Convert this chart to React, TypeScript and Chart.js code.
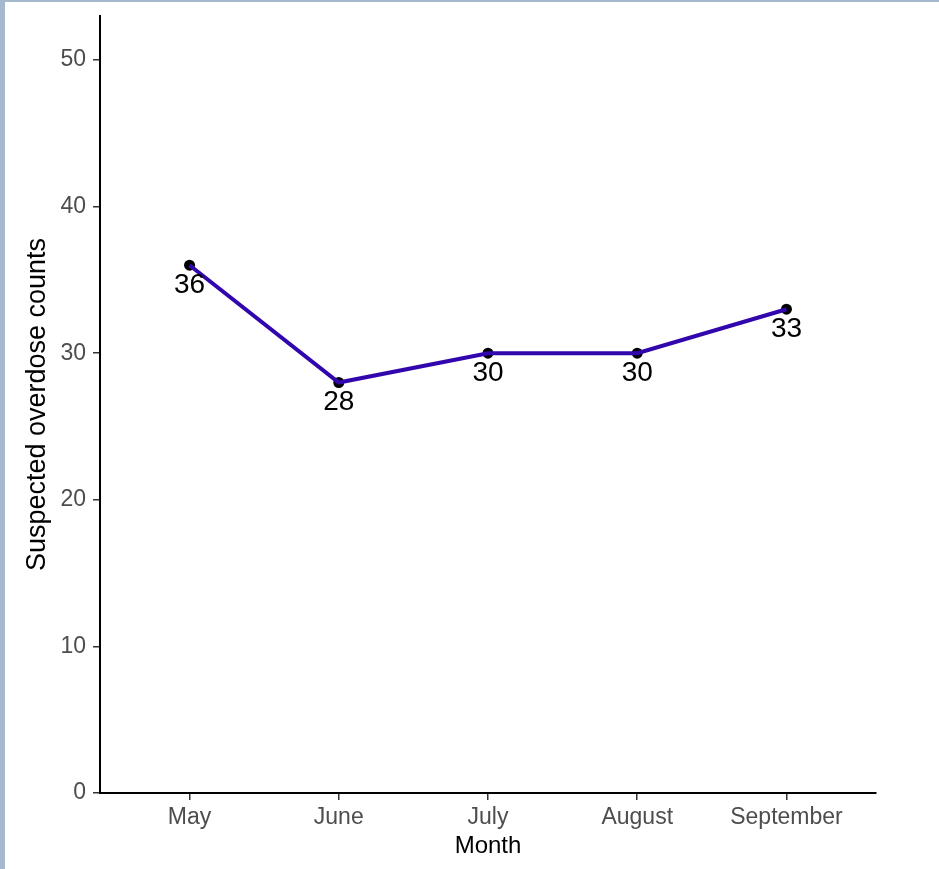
import React, { useEffect, useRef } from "react";
import { Chart, registerables } from "chart.js";

Chart.register(...registerables);

const months = ["May", "June", "July", "August", "September"];
const counts = [36, 28, 30, 30, 33];
const yTicks = [0, 10, 20, 30, 40, 50];
const yMax = 53;

const FONT = "'Liberation Sans', Arial, Helvetica, sans-serif";

const labelPlugin = {
  id: "pointLabels",
  afterDatasetsDraw(chart: any) {
    const { ctx, scales } = chart;
    ctx.save();
    ctx.font = `28px ${FONT}`;
    ctx.fillStyle = "#000000";
    ctx.textAlign = "center";
    ctx.textBaseline = "middle";
    counts.forEach((v, i) => {
      const x = scales.x.getPixelForValue(i);
      const y = scales.y.getPixelForValue(v);
      ctx.fillText(String(v), x, y + 20);
    });
    ctx.restore();
  },
};

export default function App() {
  const ref = useRef<HTMLCanvasElement | null>(null);

  useEffect(() => {
    if (!ref.current) return;
    const pts = counts.map((v, i) => ({ x: i, y: v }));
    const chart = new Chart(ref.current, {
      type: "line",
      data: {
        datasets: [
          {
            data: pts,
            borderColor: "#3206ad",
            borderWidth: 4,
            pointRadius: 0,
            fill: false,
            tension: 0,
          },
          {
            data: pts,
            showLine: false,
            pointRadius: 5.5,
            pointBackgroundColor: "#000000",
            pointBorderColor: "#000000",
            pointBorderWidth: 0,
          },
        ],
      },
      options: {
        responsive: false,
        animation: false,
        devicePixelRatio: 1,
        layout: { padding: { top: 14, right: 63, left: 0, bottom: 0 } },
        plugins: {
          legend: { display: false },
          tooltip: { enabled: false },
        },
        scales: {
          x: {
            type: "linear",
            min: -0.6,
            max: 4.6,
            afterBuildTicks: (scale: any) => {
              scale.ticks = months.map((_, i) => ({ value: i }));
            },
            afterFit: (scale: any) => {
              scale.height = 76;
            },
            ticks: {
              callback: (v: any) => months[v] ?? "",
              color: "#4d4d4d",
              font: { family: FONT, size: 23 },
              padding: 4,
              maxRotation: 0,
              autoSkip: false,
            },
            grid: {
              display: true,
              drawOnChartArea: false,
              drawTicks: true,
              tickLength: 7,
              color: "#333333",
              lineWidth: 1.5,
            },
            border: { display: true, color: "#000000", width: 2 },
            title: {
              display: true,
              text: "Month",
              color: "#000000",
              font: { family: FONT, size: 24, lineHeight: 1 },
              padding: { top: 0, bottom: 11 },
            },
          },
          y: {
            type: "linear",
            min: 0,
            max: yMax,
            afterBuildTicks: (scale: any) => {
              scale.ticks = yTicks.map((v) => ({ value: v }));
            },
            afterFit: (scale: any) => {
              scale.width = 95;
            },
            ticks: {
              color: "#4d4d4d",
              font: { family: FONT, size: 23, lineHeight: 0.4 },
              padding: 7,
            },
            grid: {
              display: true,
              drawOnChartArea: false,
              drawTicks: true,
              tickLength: 7,
              color: "#333333",
              lineWidth: 1.5,
            },
            border: { display: true, color: "#000000", width: 2 },
            title: {
              display: true,
              text: "Suspected overdose counts",
              color: "#000000",
              font: { family: FONT, size: 27, lineHeight: 1 },
              padding: { top: 19, bottom: 0 },
            },
          },
        },
      },
      plugins: [labelPlugin],
    } as any);
    return () => chart.destroy();
  }, []);

  return (
    <div
      style={{
        position: "absolute",
        left: 0,
        top: 0,
        width: 939,
        height: 869,
        boxSizing: "border-box",
        borderLeft: "5px solid #a4b8ce",
        borderTop: "2px solid #a4b8ce",
        background: "#ffffff",
        overflow: "hidden",
      }}
    >
      <canvas ref={ref} width={934} height={867} style={{ display: "block" }} />
    </div>
  );
}
